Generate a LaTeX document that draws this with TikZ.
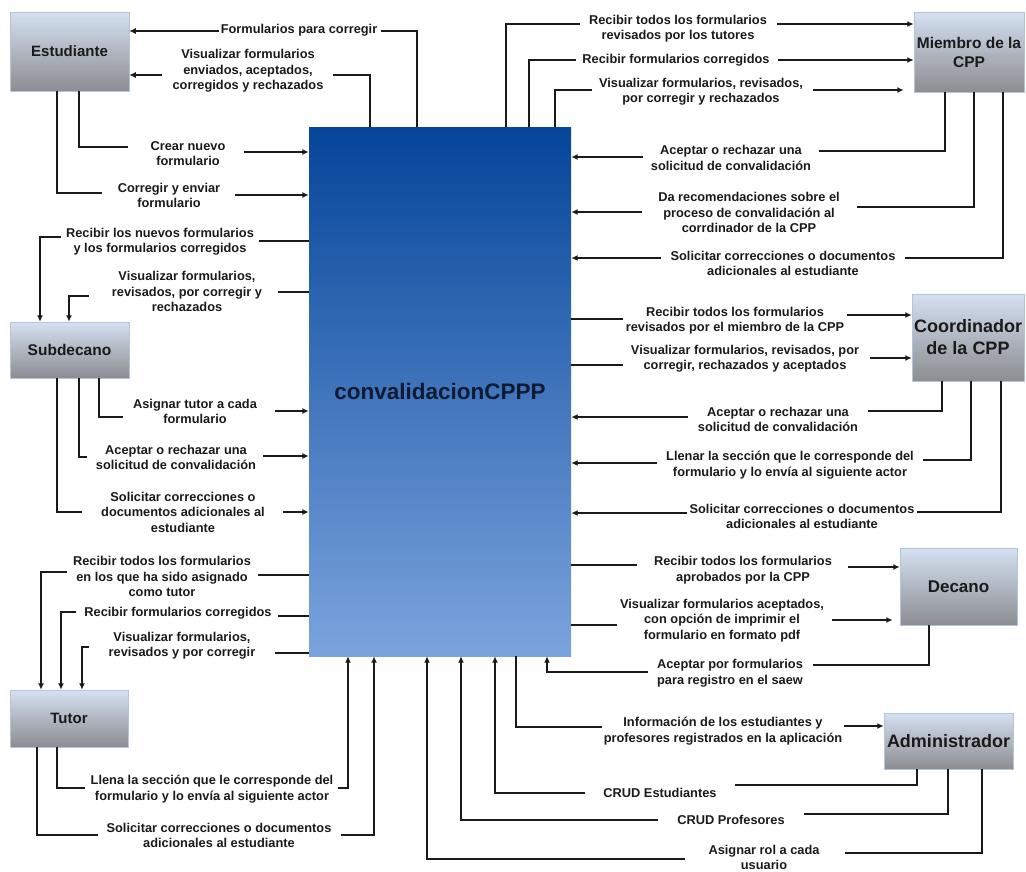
\documentclass[tikz,border=0pt]{standalone}
\usepackage{fontspec}
\setmainfont{Liberation Sans}
\usetikzlibrary{arrows.meta}
\definecolor{mtop}{HTML}{05459A}
\definecolor{mbot}{HTML}{7BA4DD}
\definecolor{atop}{HTML}{D5E0F1}
\definecolor{abot}{HTML}{8B8D91}
\definecolor{aedge}{HTML}{B4C4DA}
\definecolor{ink}{HTML}{1A1A1A}
\definecolor{mink}{HTML}{0F1A33}
\begin{document}
\begin{tikzpicture}[x=1pt,y=-1pt,
  actor/.style={top color=atop, bottom color=abot, draw=aedge, line width=0.5pt,
    inner sep=0pt, align=center, text=ink, font=\fontsize{15.5}{19}\selectfont\bfseries},
  lbl/.style={align=center, inner sep=0pt, text=ink, font=\fontsize{12.8}{15.5}\selectfont\bfseries},
  ln/.style={draw=ink, line width=1.4pt},
  arr/.style={ln, -{Latex[length=6.5pt,width=6pt]}},
]
\useasboundingbox (0,0) rectangle (1026,871);

% central process
\node[top color=mtop, bottom color=mbot, minimum width=262pt, minimum height=529pt,
      inner sep=0pt, text=mink, font=\fontsize{22.5}{26}\selectfont\bfseries]
      (main) at (440,391.5) {convalidacionCPPP};

% actors
\node[actor, minimum width=119pt, minimum height=79pt, font=\fontsize{15}{18}\selectfont\bfseries] (est) at (69.5,51.5) {Estudiante};
\node[actor, minimum width=119pt, minimum height=56pt] (sub) at (69.5,350) {Subdecano};
\node[actor, minimum width=118pt, minimum height=57pt, font=\fontsize{15}{18}\selectfont\bfseries] (tut) at (69,718.5) {Tutor};
\node[actor, minimum width=110pt, minimum height=80pt] (mie) at (969,52) {Miembro de la\\CPP};
\node[actor, minimum width=112pt, minimum height=87pt, font=\fontsize{18}{22}\selectfont\bfseries] (coo) at (968,337.5) {Coordinador\\de la CPP};
\node[actor, minimum width=117pt, minimum height=77pt, font=\fontsize{17}{20}\selectfont\bfseries] (dec) at (958.5,586.5) {Decano};
\node[actor, minimum width=129pt, minimum height=56pt, font=\fontsize{18}{22}\selectfont\bfseries] (adm) at (948.5,741) {Administrador};

% flow labels
\node[lbl] (l1)  at (299,30)    {Formularios para corregir};
\node[lbl] (l2)  at (248,71)    {Visualizar formularios\\enviados, aceptados,\\corregidos y rechazados};
\node[lbl] (l3)  at (188,153.5) {Crear nuevo\\formulario};
\node[lbl] (l4)  at (169,195.5) {Corregir y enviar\\formulario};
\node[lbl] (l5)  at (160,241.5) {Recibir los nuevos formularios\\y los formularios corregidos};
\node[lbl] (l6)  at (187,291.5) {Visualizar formularios,\\revisados, por corregir y\\rechazados};
\node[lbl] (l7)  at (195,411.5) {Asignar tutor a cada\\formulario};
\node[lbl] (l8)  at (176,457.5) {Aceptar o rechazar una\\solicitud de convalidación};
\node[lbl] (l9)  at (183,512)   {Solicitar correcciones o\\documentos adicionales al\\estudiante};
\node[lbl] (l10) at (162,576.5) {Recibir todos los formularios\\en los que ha sido asignado\\como tutor};
\node[lbl] (l11) at (178,613)   {Recibir formularios corregidos};
\node[lbl] (l12) at (182,645.5) {Visualizar formularios,\\revisados y por corregir};
\node[lbl] (l13) at (212,789)   {Llena la sección que le corresponde del\\formulario y lo envía al siguiente actor};
\node[lbl] (l14) at (219,835.5) {Solicitar correcciones o documentos\\adicionales al estudiante};
\node[lbl] (l15) at (678,28.5)  {Recibir todos los formularios\\revisados por los tutores};
\node[lbl] (l16) at (676,60)    {Recibir formularios corregidos};
\node[lbl] (l17) at (701,91.5)  {Visualizar formularios, revisados,\\por corregir y rechazados};
\node[lbl] (l18) at (731,158)   {Aceptar o rechazar una\\solicitud de convalidación};
\node[lbl] (l19) at (749,212.5) {Da recomendaciones sobre el\\proceso de convalidación al\\corrdinador de la CPP};
\node[lbl] (l20) at (783,263.5) {Solicitar correcciones o documentos\\adicionales al estudiante};
\node[lbl] (l21) at (735,320.5) {Recibir todos los formularios\\revisados por el miembro de la CPP};
\node[lbl] (l22) at (745,358.5) {Visualizar formularios, revisados, por\\corregir, rechazados y aceptados};
\node[lbl] (l23) at (778,419.5) {Aceptar o rechazar una\\solicitud de convalidación};
\node[lbl] (l24) at (790,465)   {Llenar la sección que le corresponde del\\formulario y lo envía al siguiente actor};
\node[lbl] (l25) at (802,516.5) {Solicitar correcciones o documentos\\adicionales al estudiante};
\node[lbl] (l26) at (743,570)   {Recibir todos los formularios\\aprobados por la CPP};
\node[lbl] (l27) at (722,620.5) {Visualizar formularios aceptados,\\con opción de imprimir el\\formulario en formato pdf};
\node[lbl] (l28) at (730,673)   {Aceptar por formularios\\para registro en el saew};
\node[lbl] (l29) at (723,731)   {Información de los estudiantes y\\profesores registrados en la aplicación};
\node[lbl] (l30) at (660,793)   {CRUD Estudiantes};
\node[lbl] (l31) at (731,820)   {CRUD Profesores};
\node[lbl] (l32) at (764,857.5) {Asignar rol a cada\\usuario};

% Estudiante
\draw[ln]  (main.north -| 417,0) |- ([xshift=4pt]l1.east |- 0,31);
\draw[arr] ([xshift=-2pt]l1.west |- 0,31) -- (est.east |- 0,31);
\draw[ln]  (main.north -| 370,0) |- ([xshift=9pt]l2.east |- 0,75);
\draw[arr] ([xshift=-10pt]l2.west |- 0,75) -- (est.east |- 0,75);
\draw[ln]  (est.south -| 79,0) |- ([xshift=-22pt]l3.west |- 0,147);
\draw[arr] ([xshift=18pt]l3.east |- 0,152) -- (main.west |- 0,152);
\draw[ln]  (est.south -| 57,0) |- ([xshift=-16pt]l4.west |- 0,193);
\draw[arr] ([xshift=15pt]l4.east |- 0,195) -- (main.west |- 0,195);

% Subdecano
\draw[ln]  (main.west |- 0,241) -- ([xshift=5pt]l5.east |- 0,241);
\draw[arr] ([xshift=-5pt]l5.west |- 0,237) -| (sub.north -| 40,0);
\draw[ln]  (main.west |- 0,292) -- ([xshift=16pt]l6.east |- 0,292);
\draw[arr] ([xshift=-23pt]l6.west |- 0,296) -| (sub.north -| 69,0);
\draw[ln]  (sub.south -| 99,0) |- ([xshift=-10pt]l7.west |- 0,417);
\draw[arr] ([xshift=18pt]l7.east |- 0,411) -- (main.west |- 0,411);
\draw[ln]  (sub.south -| 79,0) |- ([xshift=-9pt]l8.west |- 0,457);
\draw[arr] ([xshift=7pt]l8.east |- 0,456) -- (main.west |- 0,456);
\draw[ln]  (sub.south -| 57,0) |- ([xshift=-19pt]l9.west |- 0,512);
\draw[arr] ([xshift=18pt]l9.east |- 0,512) -- (main.west |- 0,512);

% Tutor
\draw[ln]  (main.west |- 0,575) -- ([xshift=7pt]l10.east |- 0,575);
\draw[arr] ([xshift=-6pt]l10.west |- 0,572) -| (tut.north -| 41,0);
\draw[ln]  (main.west |- 0,616) -- ([xshift=6pt]l11.east |- 0,616);
\draw[arr] ([xshift=-8pt]l11.west |- 0,612) -| (tut.north -| 61,0);
\draw[ln]  (main.west |- 0,653) -- ([xshift=20pt]l12.east |- 0,653);
\draw[arr] ([xshift=-20pt]l12.west |- 0,647) -| (tut.north -| 82,0);
\draw[ln]  (tut.south -| 57,0) |- ([xshift=-6pt]l13.west |- 0,788);
\draw[arr] ([xshift=5pt]l13.east |- 0,788) -| (main.south -| 348,0);
\draw[ln]  (tut.south -| 37,0) |- ([xshift=-8pt]l14.west |- 0,835);
\draw[arr] ([xshift=9pt]l14.east |- 0,835) -| (main.south -| 374,0);

% Miembro de la CPP
\draw[ln]  (main.north -| 506,0) |- ([xshift=-9pt]l15.west |- 0,24);
\draw[arr] ([xshift=10pt]l15.east |- 0,24) -- (mie.west |- 0,24);
\draw[ln]  (main.north -| 529,0) |- ([xshift=-6pt]l16.west |- 0,60);
\draw[arr] ([xshift=8pt]l16.east |- 0,60) -- (mie.west |- 0,60);
\draw[ln]  (main.north -| 555,0) |- ([xshift=-7pt]l17.west |- 0,90);
\draw[arr] ([xshift=10pt]l17.east |- 0,90) -- ([xshift=-10pt]mie.west |- 0,90);
\draw[ln]  (mie.south -| 945,0) |- ([xshift=8pt]l18.east |- 0,151);
\draw[arr] ([xshift=-8pt]l18.west |- 0,157) -- (main.east |- 0,157);
\draw[ln]  (mie.south -| 974,0) |- ([xshift=17pt]l19.east |- 0,207);
\draw[arr] ([xshift=-16pt]l19.west |- 0,212) -- (main.east |- 0,212);
\draw[ln]  (mie.south -| 1003,0) |- ([xshift=9pt]l20.east |- 0,258);
\draw[arr] ([xshift=-9pt]l20.west |- 0,258) -- (main.east |- 0,258);

% Coordinador de la CPP
\draw[ln]  (main.east |- 0,319) -- ([xshift=-3pt]l21.west |- 0,319);
\draw[arr] ([xshift=3pt]l21.east |- 0,315) -- (coo.west |- 0,315);
\draw[ln]  (main.east |- 0,365) -- ([xshift=-8pt]l22.west |- 0,365);
\draw[arr] ([xshift=11pt]l22.east |- 0,358) -- (coo.west |- 0,358);
\draw[ln]  (coo.south -| 942,0) |- ([xshift=10pt]l23.east |- 0,411);
\draw[arr] ([xshift=-10pt]l23.west |- 0,417) -- (main.east |- 0,417);
\draw[ln]  (coo.south -| 971,0) |- ([xshift=9pt]l24.east |- 0,460);
\draw[arr] ([xshift=-9pt]l24.west |- 0,463) -- (main.east |- 0,463);
\draw[ln]  (coo.south -| 1001,0) |- ([xshift=2pt]l25.east |- 0,512);
\draw[arr] ([xshift=-2pt]l25.west |- 0,513) -- (main.east |- 0,513);

% Decano
\draw[ln]  (main.east |- 0,565) -- ([xshift=-17pt]l26.west |- 0,565);
\draw[arr] ([xshift=16pt]l26.east |- 0,567) -- (dec.west |- 0,567);
\draw[ln]  (main.east |- 0,625) -- ([xshift=-3pt]l27.west |- 0,625);
\draw[arr] ([xshift=8pt]l27.east |- 0,620) -- ([xshift=-7pt]dec.west |- 0,620);
\draw[ln]  (dec.south -| 929,0) |- ([xshift=10pt]l28.east |- 0,665);
\draw[arr] ([xshift=-9pt]l28.west |- 0,672) -| (main.south -| 547,0);

% Administrador
\draw[ln]  (main.south -| 516,0) |- ([xshift=-2pt]l29.west |- 0,727);
\draw[arr] ([xshift=2pt]l29.east |- 0,726) -- (adm.west |- 0,726);
\draw[ln]  (adm.south -| 917,0) |- ([xshift=18pt]l30.east |- 0,785);
\draw[arr] ([xshift=-18pt]l30.west |- 0,793) -| (main.south -| 495,0);
\draw[ln]  (adm.south -| 948,0) |- ([xshift=19pt]l31.east |- 0,814);
\draw[arr] ([xshift=-19pt]l31.west |- 0,820) -| (main.south -| 461,0);
\draw[ln]  (adm.south -| 982,0) |- ([xshift=25pt]l32.east |- 0,853);
\draw[arr] ([xshift=-23pt]l32.west |- 0,859) -| (main.south -| 427,0);
\end{tikzpicture}
\end{document}
